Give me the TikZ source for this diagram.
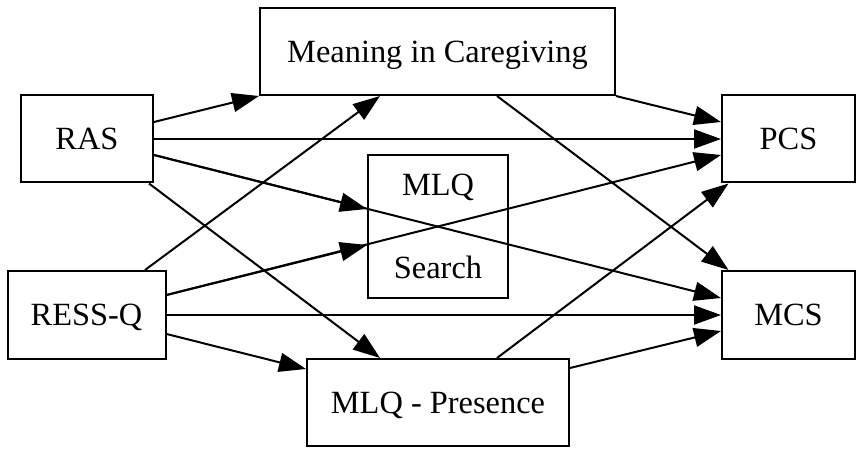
\documentclass[tikz,border=0pt]{standalone}
\usepackage{fontspec}
\setmainfont{Liberation Serif}
\usetikzlibrary{arrows.meta,calc}
\begin{document}
\begin{tikzpicture}[x=1pt,y=-1pt,
 box/.style={draw,line width=2pt,rectangle,inner sep=0pt,align=center,font=\fontsize{32.4}{39}\selectfont},
 onebox/.style={box,text height=21.5pt,text depth=0pt},
 edge/.style={line width=2pt,-{Triangle[length=27pt,width=19pt]}}]
\useasboundingbox (0,0) rectangle (857,449);
\node[onebox,minimum width=355pt,minimum height=87pt] (meaning) at (437.5,51.5) {Meaning in Caregiving};
\node[onebox,minimum width=132pt,minimum height=87pt] (ras) at (87,139) {RAS};
\node[onebox,minimum width=158pt,minimum height=88pt] (ress) at (86.5,315) {RESS-Q};
\node[box,minimum width=140pt,minimum height=143pt] (search) at (438,226.5) {MLQ\\[44pt]Search};
\node[onebox,minimum width=262pt,minimum height=87pt] (presence) at (438,402.5) {MLQ - Presence};
\node[onebox,minimum width=133pt,minimum height=87pt] (pcs) at (788.5,139) {PCS};
\node[onebox,minimum width=133pt,minimum height=88pt] (mcs) at (788.5,315) {MCS};
\draw[edge] ([yshift=17pt]ras.east) -- (meaning.south west);
\draw[edge] (ras.east) -- (pcs.west);
\draw[edge] ([yshift=-16pt]ras.east) -- ([yshift=17.5pt]search.west);
\draw[edge] ([yshift=-16pt]ras.east) -- ([yshift=17pt]mcs.west);
\draw[edge] ([xshift=-5pt]ras.south east) -- ([xshift=-58pt]presence.north);
\draw[edge] ([xshift=58.5pt]ress.north) -- ([xshift=-57.5pt]meaning.south);
\draw[edge] ([yshift=20pt]ress.east) -- ([yshift=-18.5pt]search.west);
\draw[edge] ([yshift=20pt]ress.east) -- ([yshift=-16pt]pcs.west);
\draw[edge] (ress.east) -- (mcs.west);
\draw[edge] ([yshift=-19pt]ress.east) -- ([yshift=33.5pt]presence.west);
\draw[edge] (meaning.south east) -- ([yshift=17pt]pcs.west);
\draw[edge] ([xshift=59.5pt]meaning.south) -- ([xshift=-60pt]mcs.north);
\draw[edge] ([xshift=59pt]presence.north) -- ([xshift=-60pt]pcs.south);
\draw[edge] ([yshift=34.5pt]presence.east) -- ([yshift=-16pt]mcs.west);
\end{tikzpicture}
\end{document}
